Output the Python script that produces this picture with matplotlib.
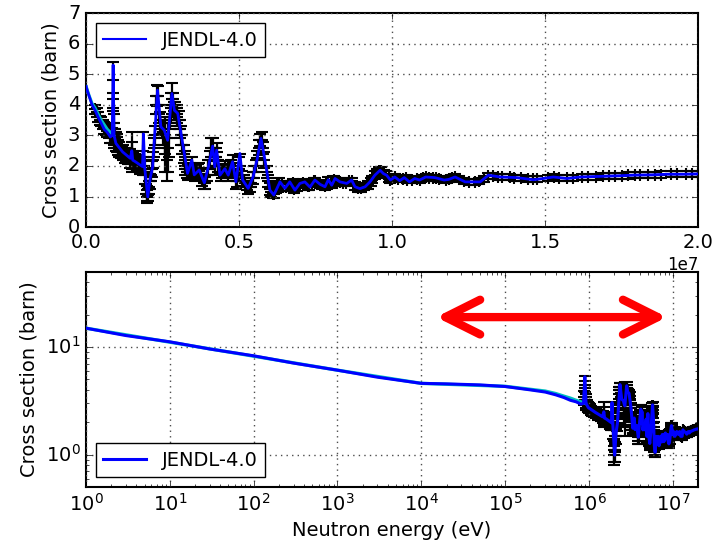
#%% Imports
import numpy as np
import matplotlib
matplotlib.use('Agg')
import matplotlib.pyplot as plt

plt.style.use('classic')
plt.rcParams['figure.facecolor'] = 'white'
plt.rcParams['savefig.facecolor'] = 'white'

#%% Data
# JENDL-4.0 evaluation, low-energy part (eV)
jendl_low_E  = [1, 3, 10, 30, 100, 300, 1e3, 3e3, 1e4, 2e4, 5e4, 1e5, 2e5, 3e5,
                4e5, 5e5, 6e5, 7e5, 8e5]
jendl_low_xs = [15.0, 12.8, 11.2, 9.6, 8.3, 7.1, 6.1, 5.25, 4.6, 4.55, 4.45, 4.3,
                4.0, 3.82, 3.6, 3.4, 3.2, 3.1, 2.95]

# JENDL-4.0 evaluation, MeV part
jendl_hi_E = [0.86, 0.89, 0.92, 0.98, 1.2, 1.45, 1.5, 1.53, 1.6, 1.85, 1.88, 1.92,
              2.02, 2.1, 2.18, 2.34, 2.45, 2.56, 2.67, 2.81, 2.89, 3.0, 3.16, 3.32,
              3.46, 3.54, 3.7, 3.87, 4.0, 4.14, 4.21, 4.27, 4.38, 4.54, 4.65, 4.79,
              4.90, 5.03, 5.12, 5.30, 5.46, 5.6, 5.72, 5.85, 6.01, 6.14, 6.34, 6.5,
              6.66, 6.83, 6.99, 7.15, 7.32, 7.48, 7.65, 7.81, 7.92, 8.03, 8.14, 8.3,
              8.52, 8.68, 8.79, 8.95, 9.12, 9.28, 9.44, 9.61, 9.72, 9.82, 9.95,
              10.09, 10.25, 10.4, 10.57, 10.74, 10.9, 11.1, 11.4, 11.7, 11.85, 12.06,
              12.39, 12.88, 13.15, 13.53, 14.07, 14.62, 14.94, 15.27, 15.71, 16.15,
              16.8, 17.4, 17.9, 18.5, 18.99, 19.5, 20.0]
jendl_hi_xs = [3.0, 5.3, 3.0, 2.74, 2.46, 2.25, 2.5, 2.19, 2.15, 1.98, 3.05, 1.95,
               0.99, 1.6, 1.97, 4.48, 3.28, 3.17, 2.84, 4.37, 3.82, 3.72, 2.74, 1.76,
               2.19, 1.71, 1.87, 1.45, 1.97, 2.65, 1.97, 2.52, 1.70, 1.91, 1.70, 2.14,
               1.48, 2.41, 1.54, 1.27, 1.64, 2.25, 2.9, 2.19, 1.21, 1.05, 1.48, 1.27,
               1.48, 1.21, 1.43, 1.48, 1.31, 1.54, 1.40, 1.32, 1.55, 1.37, 1.59, 1.48,
               1.43, 1.54, 1.32, 1.26, 1.32, 1.48, 1.70, 1.86, 1.75, 1.70, 1.54,
               1.64, 1.52, 1.62, 1.48, 1.59, 1.54, 1.64, 1.62, 1.54, 1.56, 1.64,
               1.48, 1.48, 1.70, 1.64, 1.62, 1.55, 1.59, 1.64, 1.59, 1.64,
               1.66, 1.68, 1.70, 1.71, 1.73, 1.73, 1.74]

# Second evaluation (cyan, mostly hidden under JENDL)
other_E  = [1, 1e3, 1e4, 1e5, 2e5, 3e5, 4e5, 5e5, 6e5, 7e5, 8e5, 9e5]
other_xs = [15.0, 6.1, 4.6, 4.32, 4.05, 3.9, 3.7, 3.5, 3.35, 3.2, 3.1, 3.0]

# Experimental data, set 1 (MeV, barn) - rows aligned between the three lists
exp_E = [0.88, 0.89, 0.90, 0.91, 0.95, 1.0, 1.05, 1.1, 1.15, 1.25, 1.3, 1.35, 1.4,
         1.5, 1.55, 1.65, 1.7, 1.75, 1.8, 1.88, 1.9, 1.97, 2.0, 2.03, 2.06, 2.12,
         2.2, 2.26, 2.3, 2.36, 2.4, 2.5, 2.6, 2.65, 2.7, 2.75, 2.8, 2.83, 2.86,
         2.92, 2.96, 3.05, 3.1, 3.2, 3.25, 3.3, 3.4, 3.5, 3.6, 3.65, 3.75, 3.8,
         3.9, 3.95, 4.05, 4.1, 4.17, 4.25, 4.32, 4.45, 4.5, 4.6, 4.7, 4.75, 4.85,
         4.95, 5.0, 5.05, 5.2, 5.25, 5.35, 5.4, 5.5, 5.55, 5.65, 5.7, 5.78, 5.9,
         5.95, 6.05, 6.1, 6.2, 6.25, 6.4, 6.45, 6.6, 6.7, 6.8, 6.9, 7.0, 7.1, 7.2,
         7.3, 7.4, 7.5, 7.6, 7.7, 7.8, 7.9, 8.0, 8.1, 8.2, 8.4, 8.6, 8.7, 8.9, 9.0,
         9.2, 9.35, 9.5, 9.65, 9.8, 9.9, 10.0, 10.2, 10.35, 10.5, 10.65, 10.8,
         11.0, 11.2, 11.35, 11.55, 11.75, 11.95, 12.2, 12.5, 12.7, 13.0, 13.3,
         13.6, 13.85, 14.2, 14.45, 14.75, 15.1, 15.45, 15.9, 16.4, 16.9, 17.3,
         17.7, 18.1, 18.6, 19.1, 19.6, 20.0]
exp_xs = [3.4, 4.8, 3.8, 3.0, 2.9, 2.75, 2.6, 2.5, 2.45, 2.4, 2.35, 2.3, 2.25,
          2.5, 2.2, 2.1, 2.05, 2.0, 2.0, 2.5, 2.0, 1.4, 1.0, 1.05, 1.3, 1.7,
          2.2, 3.0, 4.0, 4.3, 3.7, 3.2, 3.0, 2.2, 2.9, 3.6, 4.2, 4.0, 3.9,
          3.8, 3.6, 3.5, 3.0, 2.4, 2.0, 1.8, 1.9, 1.85, 1.8, 1.85, 1.75, 1.55,
          1.45, 1.7, 2.2, 2.6, 2.3, 2.3, 2.0, 1.8, 1.85, 1.8, 1.85, 2.0, 1.8,
          1.5, 1.9, 2.0, 1.45, 1.35, 1.3, 1.45, 1.8, 2.0, 2.6, 2.85, 2.6, 1.8,
          1.5, 1.15, 1.1, 1.25, 1.4, 1.4, 1.3, 1.4, 1.4, 1.25, 1.3, 1.42, 1.45, 1.42,
          1.33, 1.45, 1.5, 1.42, 1.38, 1.35, 1.52, 1.42, 1.55, 1.5, 1.45, 1.5, 1.5, 1.28, 1.27,
          1.38, 1.55, 1.78, 1.85, 1.72, 1.6, 1.58, 1.58, 1.58, 1.55, 1.55, 1.57,
          1.6, 1.62, 1.62, 1.58, 1.55, 1.6, 1.56, 1.48, 1.47, 1.58, 1.68,
          1.64, 1.63, 1.6, 1.57, 1.57, 1.62, 1.62, 1.61, 1.65, 1.66, 1.67,
          1.69, 1.7, 1.71, 1.73, 1.73, 1.74]
exp_err = [0.5, 0.6, 0.6, 0.4, 0.3, 0.3, 0.25, 0.2, 0.2, 0.2, 0.2, 0.2, 0.2,
           0.6, 0.25, 0.2, 0.2, 0.2, 0.2, 0.6, 0.3, 0.3, 0.2, 0.2, 0.2, 0.2,
           0.25, 0.3, 0.3, 0.3, 0.3, 0.3, 0.6, 0.7, 0.6, 0.4, 0.5, 0.4, 0.3,
           0.3, 0.3, 0.3, 0.3, 0.3, 0.3, 0.2, 0.2, 0.2, 0.2, 0.2, 0.2, 0.2,
           0.2, 0.2, 0.3, 0.3, 0.3, 0.3, 0.2, 0.2, 0.2, 0.2, 0.2, 0.2, 0.2,
           0.2, 0.4, 0.4, 0.15, 0.15, 0.15, 0.15, 0.2, 0.2, 0.25, 0.2, 0.2, 0.2,
           0.2, 0.15, 0.15, 0.12, 0.12, 0.12, 0.12, 0.12, 0.12, 0.12, 0.12, 0.12, 0.12, 0.12,
           0.12, 0.12, 0.12, 0.12, 0.12, 0.12, 0.12, 0.12, 0.12, 0.12, 0.12, 0.12, 0.12, 0.12, 0.12,
           0.12, 0.12, 0.12, 0.12, 0.12, 0.12, 0.1, 0.1, 0.1, 0.1, 0.1, 0.1,
           0.1, 0.1, 0.1, 0.1, 0.1, 0.1, 0.1, 0.1, 0.1, 0.1, 0.1,
           0.1, 0.1, 0.1, 0.1, 0.1, 0.1, 0.1, 0.1, 0.1, 0.1, 0.1,
           0.1, 0.1, 0.1, 0.1, 0.1, 0.1]

# Experimental data, set 2 (MeV, barn) - rows aligned between the three lists
exp2_E = [0.93, 0.97, 1.02, 1.08, 1.18, 1.22, 1.28, 1.38, 1.45, 1.52, 1.6, 1.68,
          1.78, 1.85, 1.94, 1.99, 2.08, 2.15, 2.23, 2.33, 2.43, 2.53, 2.58, 2.68,
          2.78, 2.88, 2.99, 3.08, 3.15, 3.23, 3.35, 3.45, 3.55, 3.7, 3.85, 4.0,
          4.14, 4.22, 4.28, 4.4, 4.55, 4.65, 4.8, 4.9, 5.1, 5.15, 5.3, 5.45, 5.6,
          5.74, 5.83, 6.0, 6.15, 6.3, 6.55, 6.75, 6.95, 7.25, 7.45, 7.65, 7.85,
          8.05, 8.3, 8.5, 8.8, 9.1, 9.3, 9.45, 9.58, 9.75, 9.95, 10.1, 10.45,
          10.9, 11.1, 11.45, 11.85, 12.05, 12.35, 12.85, 13.15, 13.45, 14.0, 14.6,
          15.3, 15.7, 16.2, 16.65, 17.1, 17.5, 17.95, 18.35, 18.8, 19.3, 19.8]
exp2_xs = [3.2, 2.8, 2.7, 2.55, 2.45, 2.45, 2.35, 2.3, 2.25, 2.3, 2.15, 2.1,
           2.0, 2.0, 1.8, 1.1, 1.5, 1.9, 2.6, 4.3, 3.4, 3.1, 2.6, 2.6,
           3.9, 3.8, 3.7, 3.2, 2.7, 2.2, 1.8, 2.0, 1.75, 1.85, 1.45, 1.95,
           2.6, 2.0, 2.45, 1.75, 1.9, 1.75, 2.1, 1.5, 1.6, 1.5, 1.3, 1.6, 2.25,
           2.85, 2.2, 1.25, 1.1, 1.45, 1.3, 1.45, 1.4, 1.35, 1.5, 1.4, 1.4,
           1.4, 1.48, 1.45, 1.35, 1.32, 1.48, 1.7, 1.85, 1.75, 1.55, 1.64, 1.6,
           1.55, 1.64, 1.6, 1.56, 1.63, 1.5, 1.5, 1.68, 1.65, 1.62, 1.56,
           1.63, 1.6, 1.64, 1.65, 1.67, 1.68, 1.7, 1.71, 1.72, 1.73, 1.74]
exp2_err = [0.5, 0.3, 0.25, 0.25, 0.2, 0.25, 0.25, 0.25, 0.3, 0.5, 0.25, 0.25,
            0.25, 0.3, 0.4, 0.25, 0.25, 0.25, 0.3, 0.35, 0.35, 0.4, 0.8, 0.8,
            0.5, 0.3, 0.3, 0.3, 0.3, 0.3, 0.25, 0.3, 0.25, 0.25, 0.2, 0.25,
            0.3, 0.3, 0.3, 0.25, 0.25, 0.25, 0.25, 0.25, 0.25, 0.2, 0.2, 0.2, 0.25,
            0.25, 0.25, 0.2, 0.15, 0.15, 0.12, 0.12, 0.12, 0.12, 0.12, 0.12, 0.12,
            0.12, 0.12, 0.12, 0.12, 0.12, 0.12, 0.12, 0.12, 0.12, 0.12, 0.1, 0.1,
            0.1, 0.1, 0.1, 0.1, 0.1, 0.1, 0.1, 0.1, 0.1, 0.1, 0.1,
            0.1, 0.1, 0.1, 0.1, 0.1, 0.1, 0.1, 0.1, 0.1, 0.1, 0.1]

# Extra experimental points below 0.86 MeV seen only in the linear panel
exp_low_E   = [0.3, 0.35, 0.4, 0.45, 0.5, 0.55, 0.6, 0.65, 0.7, 0.75, 0.8, 0.84]
exp_low_xs  = [3.85, 3.75, 3.6, 3.5, 3.45, 3.35, 3.25, 3.2, 3.15, 3.1, 3.0, 3.0]
exp_low_err = [0.15, 0.15, 0.15, 0.15, 0.15, 0.15, 0.2, 0.2, 0.2, 0.2, 0.25, 0.25]

# Arrow marking the energy range of interest (eV, barn)
arrow_E  = (1.5e4, 8.5e6)
arrow_xs = 19.0

#%% Processing
MeV = 1e6
jendl_E  = np.concatenate([jendl_low_E, np.array(jendl_hi_E) * MeV])
jendl_xs = np.concatenate([jendl_low_xs, jendl_hi_xs])
exp_Ev   = np.array(exp_E) * MeV
exp2_Ev  = np.array(exp2_E) * MeV
exp_low_Ev = np.array(exp_low_E) * MeV
other_E  = np.array(other_E)
other_xs = np.array(other_xs)
top_mask = jendl_E >= 1e4

eb_kw = dict(fmt='+', color='k', ms=9, mew=1.5, elinewidth=1.6, capsize=4,
             capthick=1.5, zorder=2)

#%% Figure
fig = plt.figure(figsize=(7.28, 5.46), dpi=100)
ax_lin = fig.add_axes([0.118, 0.584, 0.841, 0.392])
ax_log = fig.add_axes([0.118, 0.108, 0.841, 0.394])

# Linear panel
ax_lin.errorbar(exp_low_Ev, exp_low_xs, yerr=exp_low_err, **eb_kw)
ax_lin.errorbar(exp_Ev, exp_xs, yerr=exp_err, **eb_kw)
ax_lin.errorbar(exp2_Ev, exp2_xs, yerr=exp2_err, **eb_kw)
ax_lin.plot(other_E[other_E >= 1e4], other_xs[other_E >= 1e4],
            color='c', lw=2.2, zorder=3)
ax_lin.plot(jendl_E[top_mask], jendl_xs[top_mask], color='b', lw=2.0,
            label='JENDL-4.0', zorder=4)
ax_lin.set_xlim(0, 2.0e7)
ax_lin.set_ylim(0, 7)
ax_lin.set_xticks([0, 0.5e7, 1.0e7, 1.5e7, 2.0e7])
ax_lin.set_yticks(range(0, 8))
ax_lin.set_ylabel('Cross section (barn)', fontsize=14)
ax_lin.grid(True, color='0.3', linestyle=':', lw=1)
leg = ax_lin.legend(loc='upper left', fontsize=14, numpoints=1, handlelength=2.2)
leg.get_lines()[0].set_linewidth(1.5)

# Log panel
ax_log.errorbar(exp_Ev, exp_xs, yerr=exp_err, **eb_kw)
ax_log.errorbar(exp2_Ev, exp2_xs, yerr=exp2_err, **eb_kw)
ax_log.plot(other_E, other_xs, color='c', lw=2.4, zorder=3)
ax_log.plot(jendl_E, jendl_xs, color='b', lw=2.2, label='JENDL-4.0', zorder=4)
ax_log.set_xscale('log')
ax_log.set_yscale('log')
ax_log.set_xlim(1, 2.0e7)
ax_log.set_ylim(0.5, 50)
ax_log.set_xlabel('Neutron energy (eV)', fontsize=14)
ax_log.set_ylabel('Cross section (barn)', fontsize=14)
ax_log.grid(True, which='major', color='0.3', linestyle=':', lw=1)
ax_log.legend(loc='lower left', fontsize=14, numpoints=1, handlelength=2.2)
ax_log.annotate('', xy=(arrow_E[1], arrow_xs), xytext=(arrow_E[0], arrow_xs),
                arrowprops=dict(arrowstyle='<->,head_length=2.5,head_width=1.25',
                                color='red', lw=6, mutation_scale=10,
                                capstyle='round', joinstyle='round',
                                shrinkA=0, shrinkB=0))

for ax in (ax_lin, ax_log):
    ax.tick_params(labelsize=14)
    for sp in ax.spines.values():
        sp.set_linewidth(1.5)

fig.savefig('out.png', dpi=100)
